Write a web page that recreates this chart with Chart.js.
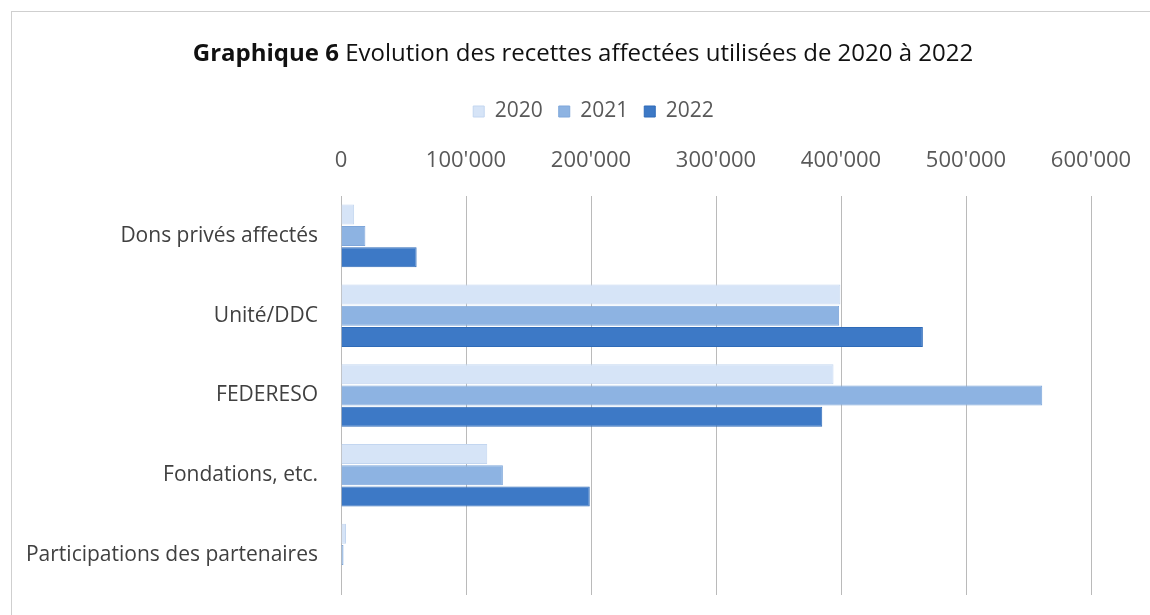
<!DOCTYPE html>
<html>
<head>
<meta charset="utf-8">
<script src="https://cdn.jsdelivr.net/npm/chart.js@4"></script>
<style>
  html, body { margin: 0; padding: 0; background: #ffffff; }
  #wrap { position: relative; width: 1150px; height: 615px; overflow: hidden; }
  #frame { position: absolute; left: 11px; top: 11px; right: -5px; bottom: -5px; border-left: 1px solid #cfcfcf; border-top: 1px solid #cfcfcf; }
  #title { position: absolute; left: 8px; top: 35px; width: 1150px; text-align: center; font-family: "Open Sans", sans-serif; font-size: 24px; line-height: 34px; color: #111; }
  #title b { font-weight: 700; }
  canvas { position: absolute; left: 0; top: 0; }
</style>
</head>
<body>
<div id="wrap">
  <div id="frame"></div>
  <canvas id="c" width="1150" height="615"></canvas>
  <div id="title"><b>Graphique 6</b> Evolution des recettes affectées utilisées de 2020 à 2022</div>
</div>
<script>
const categories = ["Dons privés affectés", "Unité/DDC", "FEDERESO", "Fondations, etc.", "Participations des partenaires"];
const seriesNames = ["2020", "2021", "2022"];
const values2020 = [10500, 399500, 394000, 117000, 4000];
const values2021 = [19500, 398500, 561000, 129500, 2000];
const values2022 = [60500, 465500, 385000, 199000, 0];
const tickValues = [0, 100000, 200000, 300000, 400000, 500000, 600000];
const tickLabels = ["0", "100'000", "200'000", "300'000", "400'000", "500'000", "600'000"];

const fillColors = ["#d6e4f7", "#8db3e2", "#3d79c6"];
const edgeColors = ["#c3d6f0", "#7ea6da", "#2f6bb8"];
const seriesValues = [values2020, values2021, values2022];

const legendShift = {
  id: 'legendShift',
  afterLayout(chart) {
    const l = chart.legend;
    if (l) { l.left += 42; l.right += 42; }
  }
};

const ctx = document.getElementById('c').getContext('2d');
new Chart(ctx, {
  type: 'bar',
  data: {
    labels: categories,
    datasets: seriesNames.map((name, i) => ({
      label: name,
      data: seriesValues[i],
      backgroundColor: fillColors[i],
      borderColor: edgeColors[i],
      borderWidth: 1,
      categoryPercentage: 0.8,
      barPercentage: 0.94
    }))
  },
  plugins: [legendShift],
  options: {
    indexAxis: 'y',
    responsive: false,
    animation: false,
    layout: { padding: { top: 85, left: 12, right: 59, bottom: 20 } },
    plugins: {
      title: { display: false },
      tooltip: { enabled: false },
      legend: {
        display: true,
        position: 'top',
        labels: {
          font: { family: "Open Sans", size: 21 },
          color: '#595959',
          boxWidth: 11,
          boxHeight: 11,
          padding: 16
        }
      }
    },
    scales: {
      x: {
        position: 'top',
        min: 0,
        max: 600000,
        afterBuildTicks: (scale) => { scale.ticks = tickValues.map(v => ({ value: v })); },
        afterFit: (scale) => { scale.height = 64; scale.paddingLeft = 0; scale.paddingRight = 0; },
        ticks: {
          font: { family: "Open Sans", size: 22 },
          color: '#595959',
          padding: 22,
          maxRotation: 0,
          callback: (v) => { const k = tickValues.indexOf(v); return k >= 0 ? tickLabels[k] : ''; }
        },
        grid: { display: true, color: '#bababa', lineWidth: 1, drawTicks: false },
        border: { display: false }
      },
      y: {
        afterFit: (scale) => { scale.width = 329; scale.paddingTop = 0; scale.paddingBottom = 0; },
        ticks: {
          font: { family: "Open Sans", size: 21 },
          color: '#404040',
          padding: 23
        },
        grid: { display: false, drawTicks: false },
        border: { display: false }
      }
    }
  }
});
</script>
</body>
</html>
